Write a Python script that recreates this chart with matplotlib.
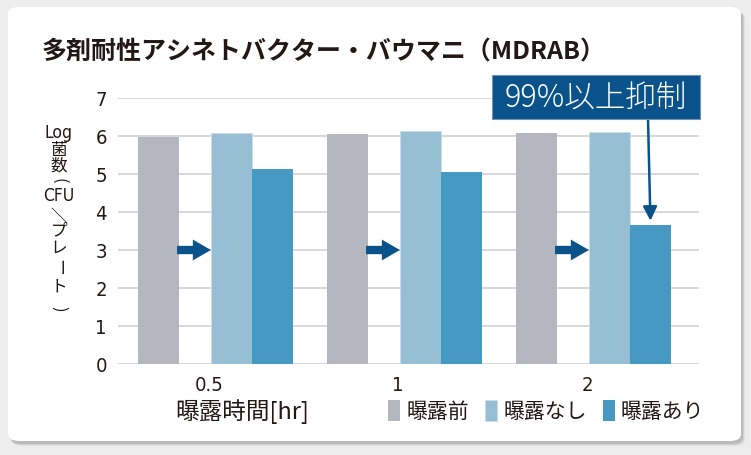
import matplotlib
matplotlib.use("Agg")
import matplotlib.pyplot as plt
from matplotlib.patches import FancyBboxPatch, Rectangle
import numpy as np

# data
times = ["0.5", "1", "2"]
before = [5.98, 6.04, 6.09]      # 曝露前
no_exp = [6.09, 6.12, 6.10]      # 曝露なし
with_exp = [5.14, 5.04, 3.67]    # 曝露あり
series_names = ["曝露前", "曝露なし", "曝露あり"]
yticks = [0, 1, 2, 3, 4, 5, 6, 7]
ylabel_parts = ["Log", "菌", "数", "(", "CFU", "／", "プ", "レ", "ー", "ト", ")"]

c_gray = "#b4b7c0"
c_light = "#97bfd3"
c_dark = "#4699c3"
c_navy = "#0a528a"
c_text = "#231815"
cjk = ["Noto Sans CJK JP", "DejaVu Sans"]
narrow = ["DejaVu Sans"]

W, H = 751, 456
fig = plt.figure(figsize=(W / 100, H / 100), dpi=100)
fig.patch.set_facecolor("#ededed")

def px(x, y):
    # pixel coords (from top-left) -> figure fraction
    return x / W, 1 - y / H

# card with a soft shadow
for i, a in enumerate([0.05, 0.07, 0.10]):
    off = 3 - i
    sh = FancyBboxPatch((9 / W + off / W, 1 - 444 / H - off / H), 733 / W, 434 / H,
                        boxstyle="round,pad=0,rounding_size=0.015",
                        transform=fig.transFigure, facecolor="black", alpha=a,
                        edgecolor="none", zorder=0)
    fig.patches.append(sh)
card = FancyBboxPatch((8 / W, 1 - 442 / H), 733 / W, 434 / H,
                      boxstyle="round,pad=0,rounding_size=0.015",
                      transform=fig.transFigure, facecolor="white",
                      edgecolor="none", zorder=1)
fig.patches.append(card)

# axes
left, right, top, bottom = 118, 699, 99, 365
ax = fig.add_axes([left / W, 1 - bottom / H, (right - left) / W, (bottom - top) / H])
ax.set_facecolor("none")
ax.set_zorder(2)

x = np.arange(len(times))
w = 0.217
off_gray, off_light, off_dark = -0.267, 0.119, 0.336
b1 = ax.bar(x + off_gray, before, w, color=c_gray, zorder=3, label=series_names[0])
b2 = ax.bar(x + off_light, no_exp, w, color=c_light, zorder=3, label=series_names[1],
            edgecolor="#c9dfe9", linewidth=0.6)
b3 = ax.bar(x + off_dark, with_exp, w, color=c_dark, zorder=3, label=series_names[2])

ax.set_xlim(-0.481, 2.593)
ax.set_ylim(0, 7)
ax.set_yticks(yticks)
ax.set_yticklabels([str(v) for v in yticks], fontfamily=narrow, fontstretch="condensed",
                   fontsize=14.5, color=c_text)
ax.set_xticks(x)
ax.set_xticklabels(times, fontfamily=narrow, fontstretch="condensed", fontsize=14.5,
                   color=c_text)
ax.tick_params(length=0)
ax.tick_params(axis="y", pad=8)
ax.tick_params(axis="x", pad=8)
ax.grid(axis="y", color="#d3d4da", linewidth=1.3, zorder=0)
ax.set_axisbelow(True)
for s in ax.spines.values():
    s.set_visible(False)

# arrows between 曝露前 and 曝露なし bars
for i in range(len(times)):
    x0 = x[i] + off_gray + w / 2 - 0.01
    x1 = x[i] + off_light - w / 2
    ax.annotate("", xy=(x1, 3), xytext=(x0, 3),
                arrowprops=dict(arrowstyle="simple,head_length=13,head_width=15,tail_width=6",
                                mutation_scale=1, color=c_navy, shrinkA=0, shrinkB=0, lw=0),
                zorder=4)

# 99% callout
bx0, by0, bx1, by1 = 492, 76, 700, 120
fig.patches.append(Rectangle((bx0 / W, 1 - by1 / H), (bx1 - bx0) / W, (by1 - by0) / H,
                             transform=fig.transFigure, facecolor=c_navy,
                             edgecolor="#6f93b5", linewidth=0.8, zorder=5))
fig.text(*px((bx0 + bx1) / 2, (by0 + by1) / 2 + 1), "99%以上抑制", color="white",
         fontsize=22, family=cjk, fontweight="light", ha="center", va="center", zorder=6)
xa = x[2] + off_dark
ya = with_exp[2]
ax.annotate("", xy=(xa, ya + 0.1), xytext=px(648, by1), textcoords="figure fraction",
            arrowprops=dict(arrowstyle="-|>,head_length=0.7,head_width=0.35",
                            mutation_scale=12, color=c_navy, lw=1.8,
                            shrinkA=0, shrinkB=0), zorder=6)

# title
fig.text(*px(42, 52), "多剤耐性アシネトバクター・バウマニ（MDRAB）", fontsize=18,
         fontweight="bold", family=cjk, color=c_text, va="center", ha="left")

# y label, stacked vertically (brackets, slash and long vowel turned as in vertical text)
ylab_y = [133, 150, 166, 181, 196, 214, 231, 248, 267, 287, 309]
for t, yy in zip(ylabel_parts, ylab_y):
    if t in ("Log", "CFU"):
        fig.text(*px(59, yy), t, fontsize=12.5, family=narrow, fontstretch="condensed",
                 color=c_text, ha="center", va="center")
    else:
        rot = -90 if t in ("(", ")", "／", "ー") else 0
        xx = 56 if t == "／" else 59
        fig.text(*px(xx, yy), t, fontsize=12, family=cjk, rotation=rot,
                 color=c_text, ha="center", va="center")

# x label
fig.text(*px(175, 412), "曝露時間[hr]", fontsize=17, family=cjk, color=c_text,
         ha="left", va="center")

# legend
leg = fig.legend(handles=[b1, b2, b3], labels=series_names, loc="center left",
                 bbox_to_anchor=px(380, 412), ncol=3, frameon=False,
                 prop={"family": cjk, "size": 15}, handlelength=0.55, handleheight=1.2,
                 handletextpad=0.3, columnspacing=0.8, borderaxespad=0)
for t in leg.get_texts():
    t.set_color(c_text)

fig.savefig("out.png", dpi=100, facecolor=fig.get_facecolor())
